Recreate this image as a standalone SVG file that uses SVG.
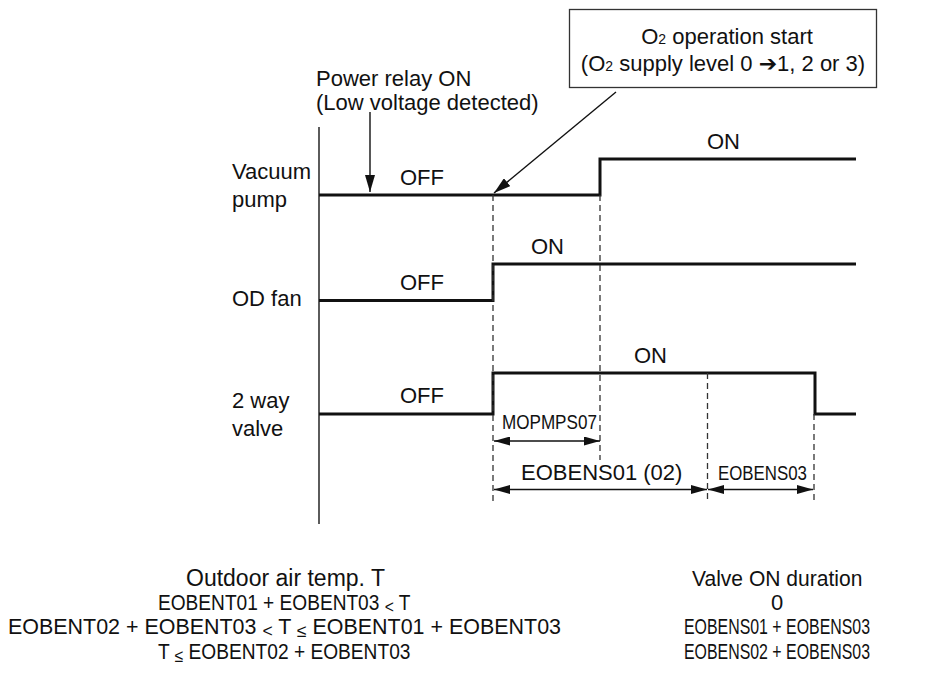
<svg xmlns="http://www.w3.org/2000/svg" width="926" height="690" viewBox="0 0 926 690">
<style>
text{font-family:"Liberation Sans",Arial,Helvetica,sans-serif;fill:#111;}
.lbl{font-size:22px;}
.tbl{font-size:22px;}
.lt{font-size:18px;}
.sig{fill:none;stroke:#111;stroke-width:3;}
.axis{fill:none;stroke:#333;stroke-width:1.6;}
.dash{fill:none;stroke:#333;stroke-width:1.3;stroke-dasharray:6,4;}
.dim{fill:none;stroke:#111;stroke-width:1.4;marker-start:url(#dimhead);marker-end:url(#dimhead);}
.ptr{fill:none;stroke:#111;stroke-width:1.4;marker-end:url(#bighead);}
</style>
<defs>
<marker id="dimhead" markerUnits="userSpaceOnUse" markerWidth="16" markerHeight="9" refX="16" refY="4.5" orient="auto-start-reverse">
<path d="M0,0 L16,4.5 L0,9 z" fill="#111"/>
</marker>
<marker id="bighead" markerUnits="userSpaceOnUse" markerWidth="17" markerHeight="10" refX="17" refY="5" orient="auto">
<path d="M0,0 L17,5 L0,10 z" fill="#111"/>
</marker>
</defs>
<rect width="926" height="690" fill="#fff"/>

<g id="axis">
<line class="axis" x1="319" y1="127" x2="319" y2="524"/>
</g>

<g id="vacuum-pump">
<text class="lbl" x="232" y="179">Vacuum</text>
<text class="lbl" x="232" y="207">pump</text>
<path class="sig" d="M319,195 H600 V159 H856"/>
<text class="lbl" x="400" y="185">OFF</text>
<text class="lbl" x="707" y="149">ON</text>
</g>

<g id="od-fan">
<text class="lbl" x="232" y="305.5">OD fan</text>
<path class="sig" d="M319,300.5 H493 V264 H856"/>
<text class="lbl" x="400" y="290">OFF</text>
<text class="lbl" x="531" y="254">ON</text>
</g>

<g id="two-way-valve">
<text class="lbl" x="232" y="408">2 way</text>
<text class="lbl" x="232" y="436">valve</text>
<path class="sig" d="M319,414 H493 V373 H815 V414 H856"/>
<text class="lbl" x="400" y="403">OFF</text>
<text class="lbl" x="634" y="363">ON</text>
</g>

<g id="power-relay">
<text class="lbl" x="316" y="86">Power relay ON</text>
<text class="lbl" x="316" y="110">(Low voltage detected)</text>
</g>

<g id="o2-start">
<rect x="569.5" y="9.5" width="307" height="78" fill="#fff" stroke="#333" stroke-width="1.3"/>
<text class="lbl" x="727" y="44" text-anchor="middle">O<tspan font-size="14">2</tspan> operation start</text>
<text class="lbl" x="723" y="71" text-anchor="middle">(O<tspan font-size="14">2</tspan> supply level 0 <tspan font-family="DejaVu Sans">➔</tspan>1, 2 or 3)</text>
</g>

<g id="connectors">
<line class="dash" x1="493" y1="195" x2="493" y2="503"/>
<line class="dash" x1="600" y1="195" x2="600" y2="460"/>
<line class="dash" x1="707.5" y1="373" x2="707.5" y2="503"/>
<line class="dash" x1="814" y1="414" x2="814" y2="503"/>
<line class="ptr" x1="370" y1="112" x2="370" y2="192"/>
<line class="ptr" x1="616" y1="92" x2="494" y2="193"/>
<line class="dim" x1="494" y1="441" x2="600" y2="441"/>
<line class="dim" x1="494" y1="489.5" x2="707" y2="489.5"/>
<line class="dim" x1="708" y1="489.5" x2="813" y2="489.5"/>
</g>

<g id="durations">
<text transform="translate(502,429) scale(0.814,1)" font-size="21">MOPMPS07</text>
<text x="521" y="480" font-size="22">EOBENS01 (02)</text>
<text transform="translate(718,480) scale(0.803,1)" font-size="21">EOBENS03</text>
</g>

<g id="condition-table">
<text x="186" y="586" font-size="23">Outdoor air temp. T</text>
<text class="tbl" transform="translate(158,610) scale(0.869,1)">EOBENT01 + EOBENT03 <tspan class="lt" dy="3">&lt;</tspan><tspan dy="-3"> T</tspan></text>
<text class="tbl" transform="translate(8,634) scale(0.975,1)">EOBENT02 + EOBENT03 <tspan class="lt" dy="3">&lt;</tspan><tspan dy="-3"> T </tspan><tspan class="lt" dy="3">≤</tspan><tspan dy="-3"> EOBENT01 + EOBENT03</tspan></text>
<text class="tbl" transform="translate(158,659) scale(0.871,1)">T <tspan class="lt" dy="3">≤</tspan><tspan dy="-3"> EOBENT02 + EOBENT03</tspan></text>
<text class="tbl" transform="translate(692,586) scale(0.957,1)">Valve ON duration</text>
<text class="tbl" x="771" y="610">0</text>
<text class="tbl" transform="translate(684,634) scale(0.723,1)">EOBENS01 + EOBENS03</text>
<text class="tbl" transform="translate(684,659) scale(0.723,1)">EOBENS02 + EOBENS03</text>
</g>
</svg>
